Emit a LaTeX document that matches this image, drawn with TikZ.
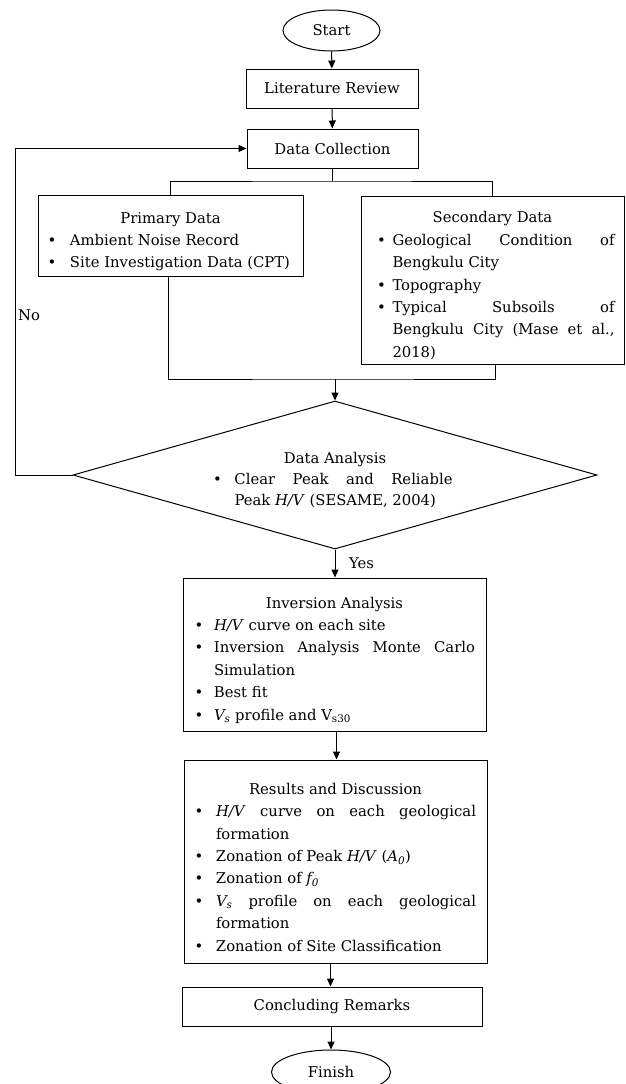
\documentclass[tikz,border=0pt]{standalone}
\usepackage{fontspec}
\setmainfont{DejaVu Serif}
\usetikzlibrary{shapes.geometric,arrows.meta}
\newcommand{\bset}[2]{\def\bulo{#1}\def\bulh{#2}}
\newcommand{\itm}[1]{\par\noindent\hangindent=\bulh pt\hangafter=1\relax
  \makebox[\bulh pt][l]{\hspace*{\bulo pt}\makebox[0pt]{\textbullet}}#1\par}
\newcommand{\ttl}[1]{\par\noindent\hbox to\hsize{\hfil#1\hfil}\par}
\tikzset{
  base/.style={font=\fontsize{14.8pt}{22.4pt}\selectfont},
  box/.style={base, draw, line width=1pt, inner sep=0pt, align=center},
  listbox/.style={base, draw, line width=1pt, inner xsep=0pt, inner ysep=0pt, align=justify},
  oval/.style={base, draw, ellipse, line width=1pt, inner sep=0pt},
  arr/.style={line width=1pt, -{Triangle[length=8pt,width=7pt]}},
  ln/.style={line width=1pt},
  lbl/.style={base, inner sep=0pt, anchor=west}
}
\begin{document}
\begin{tikzpicture}[x=1pt,y=-1pt]
\useasboundingbox (0,0) rectangle (625,1084);
\node[oval, minimum width=97pt, minimum height=41pt] (start) at (331.5,30.5) {Start};
\node[box, minimum width=172pt, minimum height=39pt] (lit) at (332,88.5) {Literature Review};
\node[box, minimum width=171pt, minimum height=39pt] (dc) at (332.5,148.5) {Data Collection};
\node[listbox, minimum width=265pt, minimum height=81pt, text width=239pt] (prim) at (170.5,236)
  {\bset{1}{19}\ttl{Primary Data}\itm{Ambient Noise Record}\itm{Site Investigation Data (CPT)}};
\node[listbox, minimum width=263pt, minimum height=168pt, text width=244pt] (sec) at (492.5,280)
  {\bset{11}{22}\ttl{Secondary Data}\itm{Geological Condition of\linebreak Bengkulu City}\itm{Topography}\itm{Typical Subsoils of\linebreak Bengkulu City (Mase et al.,\linebreak 2018)}};
\node[diamond, draw, line width=1pt, minimum width=524pt, minimum height=148pt, aspect=3.54, inner sep=0pt,
  font=\fontsize{14.8pt}{21pt}\selectfont, text width=235pt, align=justify] (da) at (335,475)
  {\bset{0}{17}\ttl{Data Analysis}\itm{Clear Peak and Reliable\linebreak Peak \textit{H/V} (SESAME, 2004)}};
\node[listbox, minimum width=303pt, minimum height=153pt, text width=281pt] (inv) at (334.5,654.5)
  {\bset{5}{20}\ttl{Inversion Analysis}\itm{\textit{H/V} curve on each site}\itm{Inversion Analysis Monte Carlo\linebreak Simulation}\itm{Best fit}\itm{\textit{V\textsubscript{s}} profile and V\textsubscript{s30}}};
\node[listbox, minimum width=303pt, minimum height=203pt, text width=281pt] (res) at (335.5,861.5)
  {\bset{4}{21}\ttl{Results and Discussion}\itm{\textit{H/V} curve on each geological\linebreak formation}\itm{Zonation of Peak \textit{H/V} (\textit{A\textsubscript{0}})}\itm{Zonation of \textit{f\textsubscript{0}}}\itm{\textit{V\textsubscript{s}} profile on each geological\linebreak formation}\itm{Zonation of Site Classification}};
\node[box, minimum width=300pt, minimum height=39pt] (conc) at (332,1006.5) {Concluding Remarks};
\node[oval, minimum width=119pt, minimum height=44pt] (fin) at (331,1072) {Finish};
% connectors
\draw[arr] (start) -- (lit);
\draw[arr] (lit) -- (dc);
\coordinate (split) at (332.5,181);
\draw[ln] (dc.south) -- (split);
\draw[ln] (prim.north) |- (split) -| (sec.north);
\coordinate (merge) at (335,379);
\draw[ln] ([xshift=-2pt]prim.south) |- (merge) -| ([xshift=3pt]sec.south);
\draw[arr] (merge) -- (da.north);
\draw[arr] (da.south) -- (da.south |- inv.north);
\node[lbl] (yes) at (349,563) {Yes};
\coordinate (fb) at (15,0);
\draw[arr] (da.west) -| (fb |- dc.west) -- (dc.west);
\node[lbl] (no) at (18,315) {No};
\draw[arr] ([xshift=2pt]inv.south) -- ([xshift=2pt]inv.south |- res.north);
\draw[arr] ([xshift=-5pt]res.south) -- ([xshift=-5pt]res.south |- conc.north);
\draw[arr] ([xshift=-1pt]conc.south) -- ([xshift=-1pt]conc.south |- fin.north);
\end{tikzpicture}
\end{document}
